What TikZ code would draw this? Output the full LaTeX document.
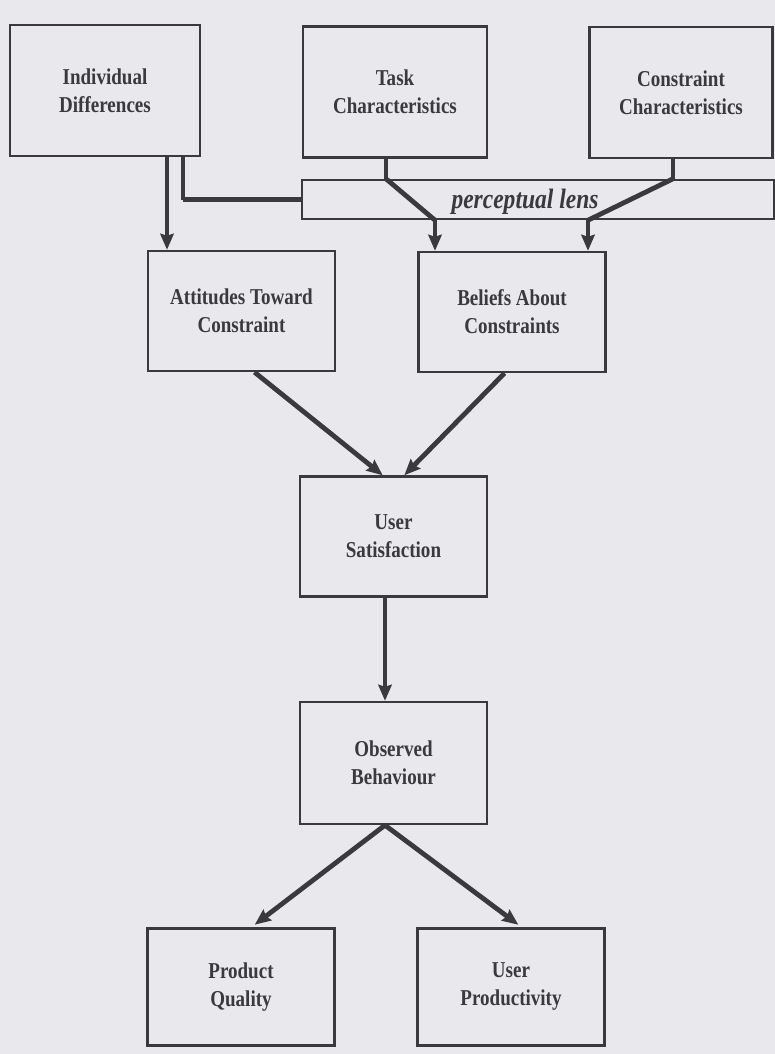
\documentclass[tikz,border=0pt]{standalone}
\usepackage{fontspec}
\usetikzlibrary{arrows.meta}
\newfontfamily\boxfont{Liberation Serif}[FakeStretch=0.84]
\definecolor{ink}{RGB}{58,58,62}
\definecolor{paper}{RGB}{233,233,237}

\begin{document}
\begin{tikzpicture}[x=0.75pt,y=-0.75pt,
  box/.style={draw=ink,line width=1.8pt,minimum width=140pt,minimum height=90pt,
    align=center,text=ink,font=\boxfont\bfseries\fontsize{17}{21}\selectfont},
  topbox/.style={box,minimum height=98pt},
  link/.style={draw=ink,line width=2.6pt},
  heavy/.style={draw=ink,line width=3.6pt},
  tip/.style={-{Stealth[length=12pt,width=10pt,inset=1.5pt]}}]
\fill[paper] (0,0) rectangle (775,1054);
\useasboundingbox (0,0) rectangle (775,1054);

\node[topbox,minimum width=142.5pt] (ind) at (105,90.5) {Individual\\Differences};
\node[topbox,minimum width=138pt] (task) at (395,92) {Task\\Characteristics};
\node[topbox,minimum width=137pt] (cons) at (681,92.5) {Constraint\\Characteristics};
\node[draw=ink,line width=1.8pt,minimum width=354pt,minimum height=29.25pt] (lens) at (538,199.5) {};
\node[text=ink,font=\boxfont\bfseries\itshape\fontsize{21}{24}\selectfont] (lenstext) at (525,202) {perceptual lens};

\node[box] (att) at (241.5,311) {Attitudes Toward\\Constraint};
\node[box] (bel) at (512,312) {Beliefs About\\Constraints};
\node[box] (sat) at (393.5,536.5) {User\\Satisfaction};
\node[box,minimum height=91.5pt] (obs) at (393.5,763) {Observed\\Behaviour};
\node[box,minimum height=88pt] (prod) at (241,987) {Product\\Quality};
\node[box,minimum height=88pt] (uprod) at (511,987) {User\\Productivity};

\coordinate (xa) at (167,0);
\coordinate (xb) at (183,0);
\coordinate (xt) at (386,0);
\coordinate (xc) at (673,0);
\coordinate (xl) at (435,0);
\coordinate (xr) at (588,0);
\coordinate (xs) at (385,0);

\draw[link,tip] (ind.south -| xa) -- (att.north -| xa);
\draw[link] (ind.south -| xb) -- (lens.west -| xb);
\draw[heavy] (lens.west -| xb) -- (lens.west);
\draw[link] (task.south -| xt) -- (lens.north -| xt);
\draw[heavy] (lens.north -| xt) -- (lens.south -| xl);
\draw[link,tip] (lens.south -| xl) -- (bel.north -| xl);
\draw[link] (cons.south -| xc) -- (lens.north -| xc);
\draw[heavy] (lens.north -| xc) -- (lens.south -| xr);
\draw[link,tip] (lens.south -| xr) -- (bel.north -| xr);

\draw[heavy,tip] (att.-78) -- (sat.100);
\draw[heavy,tip] (bel.-97) -- (sat.80);
\draw[heavy,tip] (sat.south -| xs) -- (obs.north -| xs);
\draw[heavy,tip,shorten >=3pt] (obs.south -| xs) -- (prod.80);
\draw[heavy,tip,shorten >=3pt] (obs.south -| xs) -- (uprod.80);

\end{tikzpicture}
\end{document}
